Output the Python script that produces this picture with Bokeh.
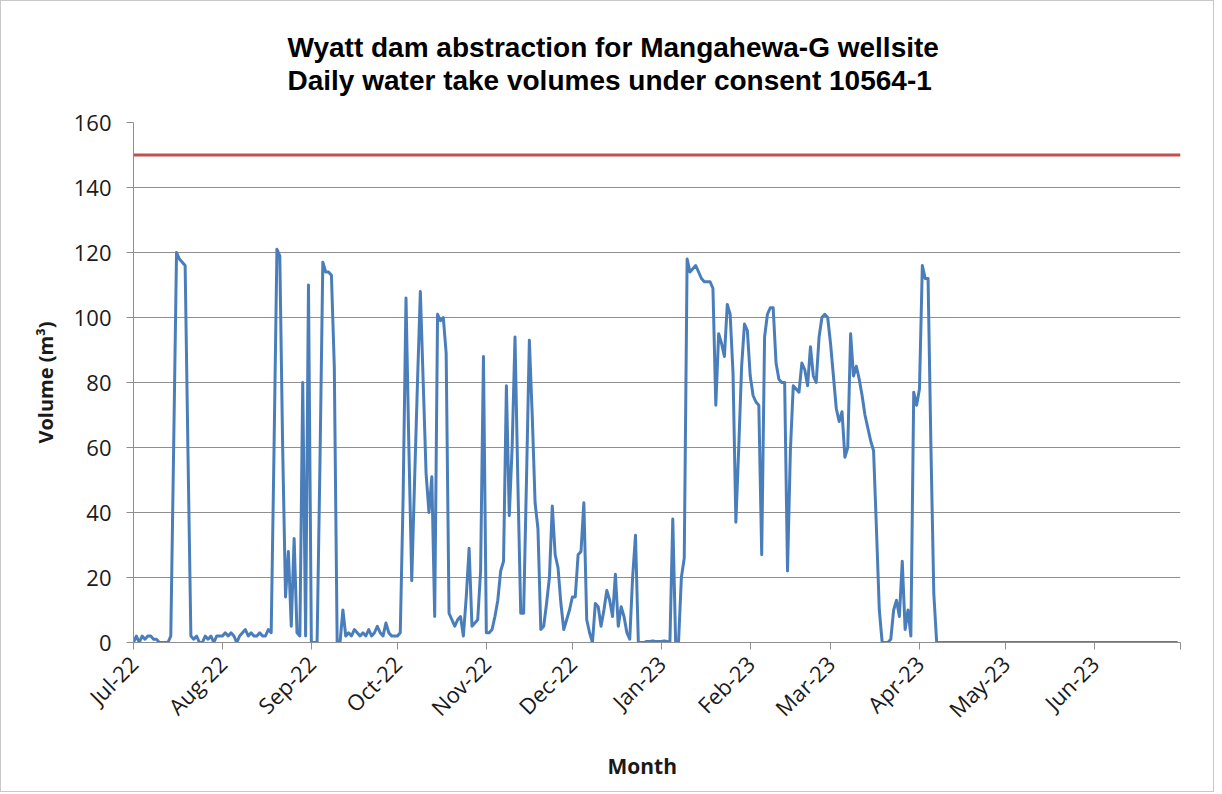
from math import pi
import pandas as pd
from bokeh.plotting import figure
from bokeh.models import Range1d, FixedTicker, DatetimeTickFormatter, Title
from bokeh.embed import file_html
from bokeh.resources import INLINE

# ---------------- data (daily take volumes, m3) ----------------
start_date = "2022-07-01"
axis_end_date = "2023-07-01"
vol_jul22 = [0, 2, 0, 2, 1, 2, 2, 1, 1, 0, 0, 0, 0, 2, 60, 120, 118, 117, 116, 58,
             2, 1, 2, 0, 0, 2, 1, 2, 0, 2, 2]
vol_aug22 = [2, 3, 2, 3, 2, 0, 2, 3, 4, 2, 3, 2, 2, 3, 2, 2, 4, 3, 60, 121,
             119, 60, 14, 28, 5, 32, 3, 2, 80, 2, 110]
vol_sep22 = [0, 0, 0, 55, 117, 114, 114, 113, 85, 0, 0, 10, 2, 3, 2, 4, 3, 2, 3, 2,
             4, 2, 3, 5, 3, 2, 6, 3, 2, 2]
vol_oct22 = [2, 3, 45, 106, 60, 19, 50, 80, 108, 80, 52, 40, 51, 8, 101, 99, 100, 89, 9, 7,
             5, 7, 8, 2, 14, 29, 5, 6, 7, 22, 88]
vol_nov22 = [3, 3, 4, 8, 13, 22, 25, 79, 39, 60, 94, 49, 9, 9, 50, 93, 70, 43, 35, 4,
             5, 12, 20, 42, 27, 23, 12, 4, 7, 10]
vol_dec22 = [14, 14, 27, 28, 43, 7, 3, 0, 12, 11, 5, 10, 16, 13, 8, 21, 5, 11, 8, 3,
             1, 20, 33, 0, 0, 0, 0.3, 0.3, 0.5, 0.3, 0.3]
vol_jan23 = [0.3, 0.5, 0.3, 0, 38, 0, 0, 20, 26, 118, 114, 115, 116, 114, 112, 111, 111, 111, 109, 73,
             95, 92, 88, 104, 101, 83, 37, 60, 85, 98, 96]
vol_feb23 = [82, 76, 74, 73, 27, 94, 101, 103, 103, 86, 81, 80, 80, 22, 59, 79, 78, 77, 86, 84,
             79, 91, 82, 80, 94, 100, 101, 100]
vol_mar23 = [92, 82, 72, 68, 71, 57, 60, 95, 82, 85, 81, 76, 70, 66, 62, 59, 35, 10, 0, 0,
             0, 1, 10, 13, 8, 25, 4, 10, 2, 77, 73]
vol_apr23 = [78, 116, 112, 112, 60, 15, 0] + [0] * 23
vol_may23 = [0] * 31
vol_jun23 = [0] * 30

consent_limit = 150
tick_labels = ["Jul-22", "Aug-22", "Sep-22", "Oct-22", "Nov-22", "Dec-22",
               "Jan-23", "Feb-23", "Mar-23", "Apr-23", "May-23", "Jun-23"]

title_line1 = "Wyatt dam abstraction for Mangahewa-G wellsite"
title_line2 = "Daily water take volumes under consent 10564-1"
x_title = "Month"
y_title = "Volume (m³)"

volumes = (vol_jul22 + vol_aug22 + vol_sep22 + vol_oct22 + vol_nov22 + vol_dec22 +
           vol_jan23 + vol_feb23 + vol_mar23 + vol_apr23 + vol_may23 + vol_jun23)
dates = pd.date_range(start_date, periods=len(volumes), freq="D")

x_start = pd.Timestamp(start_date).to_pydatetime()
x_end = pd.Timestamp(axis_end_date).to_pydatetime()

# ---------------- figure ----------------
BODY_FONT = "Open Sans"
TITLE_FONT = "Liberation Sans"
TEXT_COL = "#1a1a1a"
GRID_COL = "#8f8f8f"

p = figure(width=1214, height=792, x_axis_type="datetime",
           x_range=Range1d(x_start, x_end), y_range=Range1d(0, 160),
           output_backend="svg", toolbar_location=None,
           min_border_left=132, min_border_right=35,
           min_border_top=121, min_border_bottom=150)
p.styles = {"border": "1px solid #c8c8c8"}
p.outline_line_color = None
p.background_fill_color = "white"
p.border_fill_color = "white"

# two-line title
p.title.text = title_line1 + "\n" + title_line2
p.title.align = "left"
p.title.offset = 154
p.title.text_font = TITLE_FONT
p.title.text_font_style = "bold"
p.title.text_font_size = "28px"
p.title.text_line_height = 1.05
p.title.text_color = "#000000"
p.title.standoff = 53

p.xgrid.grid_line_color = None
p.ygrid.grid_line_color = GRID_COL
p.ygrid.grid_line_width = 1

# y axis
p.yaxis.ticker = FixedTicker(ticks=list(range(0, 161, 20)))
p.yaxis.minor_tick_line_color = None
p.yaxis.major_tick_in = 0
p.yaxis.major_tick_out = 7
p.yaxis.axis_line_color = GRID_COL
p.yaxis.major_tick_line_color = GRID_COL
p.yaxis.major_label_text_font = BODY_FONT
p.yaxis.major_label_text_font_size = "22px"
p.yaxis.major_label_text_color = TEXT_COL
p.yaxis.major_label_standoff = 15
p.yaxis.axis_label = y_title
p.yaxis.axis_label_text_font = BODY_FONT
p.yaxis.axis_label_text_font_style = "bold"
p.yaxis.axis_label_text_font_size = "20px"
p.yaxis.axis_label_text_color = TEXT_COL
p.yaxis.axis_label_standoff = 12

# x axis
month_starts = pd.date_range(start_date, periods=len(tick_labels), freq="MS")
tick_ms = [int(t.value // 10**6) for t in month_starts]
end_ms = int(pd.Timestamp(axis_end_date).value // 10**6)
p.xaxis.ticker = FixedTicker(ticks=tick_ms + [end_ms])
p.xaxis.formatter = DatetimeTickFormatter(days="%b-%y", months="%b-%y", years="%b-%y")
overrides = {float(ms): lab for ms, lab in zip(tick_ms, tick_labels)}
overrides[float(end_ms)] = ""
p.xaxis.major_label_overrides = overrides
p.xaxis.minor_tick_line_color = None
p.xaxis.major_tick_in = 0
p.xaxis.major_tick_out = 7
p.xaxis.axis_line_color = GRID_COL
p.xaxis.major_tick_line_color = GRID_COL
p.xaxis.major_label_orientation = pi / 4
p.xaxis.major_label_text_font = BODY_FONT
p.xaxis.major_label_text_font_size = "22px"
p.xaxis.major_label_text_color = TEXT_COL
p.xaxis.major_label_standoff = 10

# x-axis title placed as a below-title so it can sit where the original has it
p.add_layout(Title(text=x_title, align="left", offset=474, text_font=BODY_FONT,
                   text_font_style="bold", text_font_size="21px",
                   text_color=TEXT_COL, standoff=27), "below")

# series
p.line([x_start, x_end], [consent_limit, consent_limit], line_color="#c0504d", line_width=3)
p.line(dates, volumes, line_color="#4a7ebb", line_width=3, line_join="round")

open("out.html", "w").write(file_html(p, INLINE))
